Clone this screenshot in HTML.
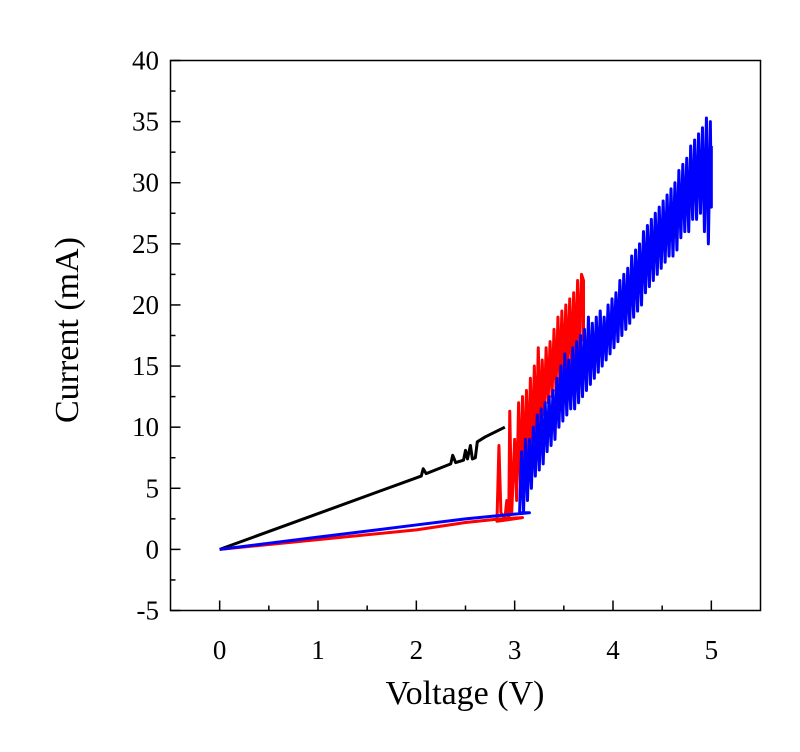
<!DOCTYPE html>
<html><head><meta charset="utf-8"><style>
html,body{margin:0;padding:0;background:#fff;}
svg{display:block;font-family:"Liberation Serif",serif;}
</style></head><body>
<svg id="chart" width="800" height="752" viewBox="0 0 800 752" xmlns="http://www.w3.org/2000/svg">
<g id="axes"></g><g id="series"></g>
<rect x="170.5" y="60.5" width="590" height="550" fill="none" stroke="#000" stroke-width="1.5"/>
<text x="465" y="704" font-size="34" text-anchor="middle">Voltage (V)</text>
<text transform="translate(78,330) rotate(-90)" font-size="34" text-anchor="middle">Current (mA)</text>
</svg>
<script>
const xTicks=[0,1,2,3,4,5];
const yTicks=[-5,0,5,10,15,20,25,30,35,40];
const blackV=[0,2.05,2.07,2.1,2.35,2.37,2.4,2.48,2.5,2.52,2.55,2.57,2.6,2.62,2.7,2.8,2.9];
const blackI=[0,6,6.6,6.2,7,7.7,7.1,7.3,8.1,7.4,8.5,7.4,7.5,8.8,9.2,9.6,10];
const redV=[0,2.0,2.5,2.85,3.08,2.82,2.84,2.86,2.9,2.92,2.94,2.95,2.97,3.00,3.02,3.04,3.06,3.08,3.10,3.12,3.14,3.16,3.18,3.20,3.22,3.24,3.26,3.28,3.30,3.32,3.34,3.36,3.38,3.40,3.42,3.44,3.46,3.48,3.50,3.52,3.54,3.56,3.58,3.60,3.62,3.64,3.66,3.68,3.70,3.70];
const redI=[0,1.6,2.2,2.5,2.6,2.3,8.5,3,2.5,4,2.5,11.3,3,9,4,12,5,12.5,6,13,7,14,8,15,9,16.5,10,15.5,11,16.5,12,17,12.5,18,13,19,13.5,19.5,14,20,14.5,20.5,15,21,15.5,22,16,22.5,22,17];
const blueV=[0,1,2,2.5,3.15,3.05,3.07,3.09,3.11,3.13,3.15,3.17,3.19,3.21,3.23,3.25,3.27,3.29,3.31,3.33,3.35,3.37,3.39,3.41,3.43,3.45,3.47,3.49,3.51,3.53,3.55,3.57,3.59,3.61,3.63,3.65,3.67,3.69,3.71,3.73,3.75,3.77,3.79,3.81,3.83,3.85,3.87,3.89,3.91,3.93,3.95,3.97,3.99,4.01,4.03,4.05,4.07,4.09,4.11,4.13,4.15,4.17,4.19,4.21,4.23,4.25,4.27,4.29,4.31,4.33,4.35,4.37,4.39,4.41,4.43,4.45,4.47,4.49,4.51,4.53,4.55,4.57,4.59,4.61,4.63,4.65,4.67,4.69,4.71,4.73,4.75,4.77,4.79,4.81,4.83,4.85,4.87,4.89,4.91,4.93,4.95,4.97,4.99,5.00,5.00];
const blueI=[0,1.0,2.0,2.5,3.0,3,8,3,9,4,9,5,10,6,11,6.5,11.5,7,12,8,12.5,8.5,13,9,14,10,15,10.5,16,11,15.5,11.5,16.5,11.5,17,12,17.5,12.5,18,13,19,13.5,18.5,14,19,14.5,19.5,15,19,15.5,20,16,20.5,16.5,21,17,22,17.5,22.5,18,23,18.5,24,19,24.5,19.5,25,20,26,21,26.5,21.5,27,22,27.5,22.5,28,23,28.5,23.5,29,24,29.5,24,30,24.5,31,25.5,31.5,26,32,26,33,27,33.5,27,34,27.5,34.5,26,35.3,25,35,28,33];
const X0=170.5,X1=760.5,Y0=610.5,Y1=60.5;
const xs=v=>X0+(v+0.5)/6*(X1-X0);
const ys=i=>Y0-(i+5)/45*(Y0-Y1);
const NS="http://www.w3.org/2000/svg";
const axes=document.getElementById('axes'),series=document.getElementById('series');
function mk(tag,at,parent){const e=document.createElementNS(NS,tag);for(const k in at)e.setAttribute(k,at[k]);parent.appendChild(e);return e;}
xTicks.forEach(v=>{
 const t=mk('line',{x1:xs(v),x2:xs(v),y1:Y0,y2:Y0-10,stroke:'#000','stroke-width':1.5},axes);
 
 
 const l=mk('text',{x:xs(v),y:659,'font-size':27,'text-anchor':'middle'},axes);l.textContent=v;
 
 
 if(v<5){const m=mk('line',{x1:xs(v+0.5),x2:xs(v+0.5),y1:Y0,y2:Y0-5,stroke:'#000','stroke-width':1.5},axes);
 
 }
});
yTicks.forEach(v=>{
 const t=mk('line',{x1:X0,x2:X0+10,y1:ys(v),y2:ys(v),stroke:'#000','stroke-width':1.5},axes);
 
 
 const l=mk('text',{x:159,y:ys(v)+9,'font-size':27,'text-anchor':'end'},axes);l.textContent=v;
 
 
 if(v<40){const m=mk('line',{x1:X0,x2:X0+5,y1:ys(v+2.5),y2:ys(v+2.5),stroke:'#000','stroke-width':1.5},axes);
 
 }
});
function line(V,I,color,name){
 const p=mk('polyline',{points:V.map((v,k)=>xs(v)+','+ys(I[k])).join(' '),fill:'none',stroke:color,'stroke-width':3,'stroke-linejoin':'round'},series);
 
 
}
line(blackV,blackI,'#000','series-black');
line(redV,redI,'#ff0000','series-red');
line(blueV,blueI,'#0000ff','series-blue');
</script>
</body></html>
